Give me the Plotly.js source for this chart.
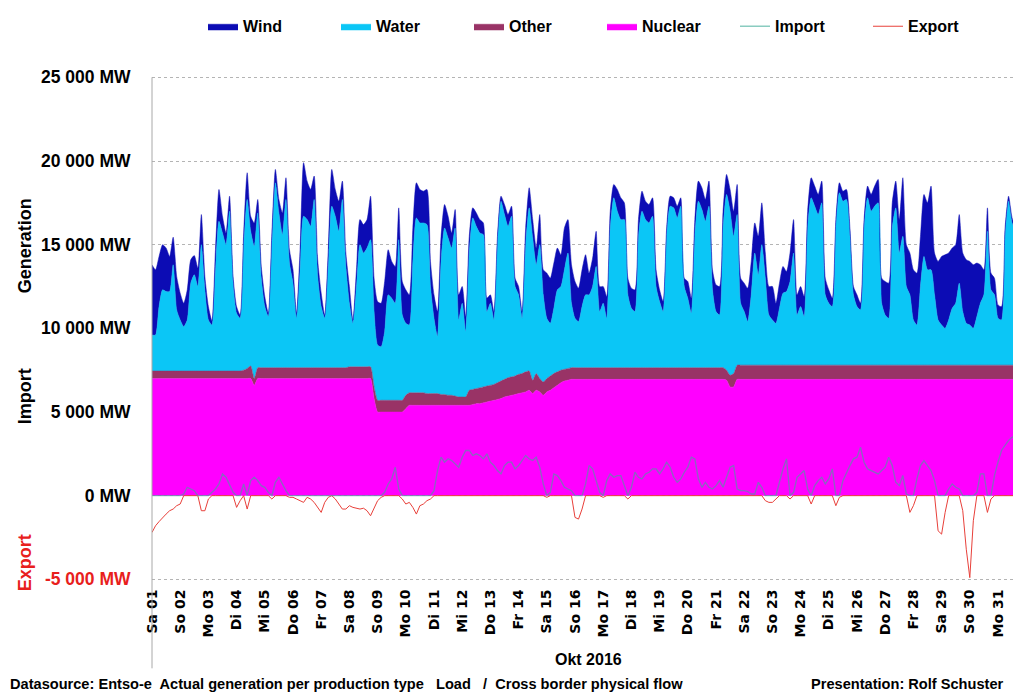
<!DOCTYPE html>
<html>
<head>
<meta charset="utf-8">
<script src="https://cdn.plot.ly/plotly-3.0.1.min.js"></script>
<style>
html,body{margin:0;padding:0;background:#fff;}
#chart{width:1013px;height:694px;}
</style>
</head>
<body>
<div id="chart"></div>
<script>
// ---- Data (MW), sampled every 3 hours, October 2016 ----
const hoursOfDay = [0,3,6,9,12,15,18,21];
const dayLabels = ["Sa 01","So 02","Mo 03","Di 04","Mi 05","Do 06","Fr 07","Sa 08","So 09","Mo 10",
  "Di 11","Mi 12","Do 13","Fr 14","Sa 15","So 16","Mo 17","Di 18","Mi 19","Do 20",
  "Fr 21","Sa 22","So 23","Mo 24","Di 25","Mi 26","Do 27","Fr 28","Sa 29","So 30","Mo 31"];

const nuclearMW = [
 7000,7000,7000,7000,7000,7000,7000,7000,
 7000,7000,7000,7000,7000,7000,7000,7000,
 7000,7000,7000,7000,7000,7000,7000,7000,
 7000,7000,7000,7000,7000,6600,7000,7000,
 7000,7000,7000,7000,7000,7000,7000,7000,
 7000,7000,7000,7000,7000,7000,7000,7000,
 7000,7000,7000,7000,7000,7000,7000,7000,
 7000,7000,7000,7000,7000,7000,7000,5800,
 5000,5000,5000,5000,5000,5000,5000,5000,
 5200,5400,5400,5400,5400,5400,5400,5400,
 5400,5400,5400,5400,5400,5400,5400,5400,
 5400,5400,5400,5450,5500,5500,5550,5600,
 5650,5700,5750,5800,5900,5950,6000,6050,
 6100,6150,6200,6300,6100,6300,6200,6000,
 6200,6300,6450,6600,6750,6850,6900,6950,
 6950,6950,6950,6950,6950,6950,6950,6950,
 6950,6950,6950,6950,6950,6950,6950,6950,
 6950,6950,6950,6950,6950,6950,6950,6950,
 6950,6950,6950,6950,6950,6950,6950,6950,
 6950,6950,6950,6950,6950,6950,6950,6950,
 6950,6950,6950,6900,6500,6500,6950,6950,
 6950,6950,6950,6950,6950,6950,6950,6950,
 6950,6950,6950,6950,6950,6950,6950,6950,
 6950,6950,6950,6950,6950,6950,6950,6950,
 6950,6950,6950,6950,6950,6950,6950,6950,
 6950,6950,6950,6950,6950,6950,6950,6950,
 6950,6950,6950,6950,6950,6950,6950,6950,
 6950,6950,6950,6950,6950,6950,6950,6950,
 6950,6950,6950,6950,6950,6950,6950,6950,
 6950,6950,6950,6950,6950,6950,6950,6950,
 6950,6950,6950,6950,6950,6950];

const otherMW = [
 450,450,450,450,450,450,450,450,
 450,450,450,450,450,450,450,450,
 450,450,450,450,450,450,450,450,
 450,450,500,600,750,400,650,650,
 650,650,650,650,650,650,650,650,
 650,650,650,650,650,650,650,650,
 650,650,650,650,650,650,650,650,
 700,700,700,700,700,700,700,700,
 700,700,700,700,700,700,700,700,
 800,750,750,750,750,750,700,700,
 700,700,650,650,600,600,550,500,
 500,500,900,900,900,950,950,950,
 950,950,1000,1050,1050,1100,1100,1100,
 1150,1150,1200,1150,800,1000,800,800,
 800,850,850,800,750,700,700,700,
 700,700,700,700,700,700,700,700,
 700,700,700,700,700,700,700,700,
 700,700,700,700,700,700,700,700,
 700,700,700,700,700,700,700,700,
 700,700,700,700,700,700,700,700,
 700,700,700,600,700,800,850,850,
 850,850,850,850,850,850,850,850,
 850,850,850,850,850,850,850,850,
 850,850,850,850,850,850,850,850,
 850,850,850,850,850,850,850,850,
 850,850,850,850,850,850,850,850,
 850,850,850,850,850,850,850,850,
 850,850,850,850,850,850,850,850,
 850,850,850,850,850,850,850,850,
 850,850,850,850,850,850,850,850,
 850,850,850,850,850,850];

const waterMW = [
 2150,2150,3850,4850,4750,4750,6350,3650,
 3050,2650,3050,5250,5750,5050,7550,4850,
 3050,2750,6050,8950,8250,7550,9550,5250,
 3450,3150,7400,10100,8050,7900,9250,5350,
 3650,3050,7250,11050,9250,7950,10050,6250,
 5050,2950,5850,9050,8850,8450,10050,5450,
 3650,2950,6050,9650,9050,8150,10050,6050,
 3800,2600,4800,7300,6800,7100,7600,4500,
 3300,3200,4100,6300,6100,5800,9600,5100,
 4300,4050,7850,10450,10150,10150,10100,6400,
 4500,3400,7950,9950,9400,8800,10050,4600,
 5600,3900,8200,10250,9700,9250,9100,4450,
 4900,3850,8250,10750,9850,9050,9600,5350,
 4750,3300,7600,9750,8500,6500,8000,5200,
 3600,3150,3900,4900,5000,5950,6900,3850,
 2950,2750,3650,4350,4350,4850,6050,3350,
 3850,2950,8350,10150,9350,8850,8850,4350,
 3550,3350,7850,9350,8850,8650,9050,4850,
 3950,3350,7850,9650,9550,8950,9650,4850,
 4150,3250,7850,9950,9450,8750,9650,4650,
 3350,3150,8350,10500,9800,8200,9000,3700,
 3200,2600,4200,6700,5400,7200,5200,3000,
 2700,2500,3400,4300,4400,5000,6700,3000,
 3500,2900,8200,10000,9500,9000,9700,4200,
 3700,3500,8200,10300,9800,9900,7700,4200,
 3500,3300,8200,10000,9200,9500,9700,3700,
 3000,2800,8200,9400,6700,7700,4700,4200,
 2700,2400,4700,6500,5700,5700,4200,2700,
 2400,2200,2700,3400,3700,4900,3200,2500,
 2400,2200,2900,3700,4200,8000,4500,4200,
 2800,2700,7700,9800,8500,8000];

const windMW = [
 4200,3900,3000,2700,2600,2100,1650,2000,
 1600,1400,1800,1400,1150,1100,1800,800,
 800,250,1200,1900,1000,700,900,400,
 400,200,800,1600,900,1400,800,700,
 600,200,800,800,800,1300,1300,800,
 800,300,1200,3200,2300,2200,1400,1000,
 800,200,1000,2200,1600,1800,1100,800,
 1000,200,1000,1500,1700,1700,2600,2000,
 2600,2600,3000,2700,2200,2200,1900,2000,
 2000,1800,2000,2100,2000,1900,2100,1500,
 1400,1500,1500,1400,1300,900,1100,1500,
 1000,900,1000,600,800,800,700,800,
 500,500,500,300,600,700,600,500,
 500,400,1000,1200,1100,1000,1800,1500,
 2700,2700,2700,2500,1900,2500,2000,2300,
 2200,2000,2200,2400,1300,1700,2100,1500,
 1000,1300,1000,800,1300,1300,1000,1000,
 1200,1300,1000,1200,1100,1100,1100,1000,
 700,600,500,600,600,700,500,500,
 1000,900,1000,1200,1300,1300,1500,1200,
 1600,1700,1000,1200,1300,1500,1800,1500,
 1700,2000,2000,1800,2300,2500,1500,1700,
 2000,1200,1500,1600,1200,1700,2000,1200,
 1200,1200,1000,1200,1200,1200,1300,1000,
 800,500,500,600,600,600,500,500,
 700,400,500,700,1000,1200,1400,1500,
 2000,2100,1500,1600,2000,3500,2500,2500,
 3000,3100,3000,3700,4000,5000,2500,3500,
 4100,4400,4000,3600,3500,4100,3500,3800,
 3800,3800,3200,2300,1500,1400,1000,1000,
 800,800,500,300,300,200];

const importMW = [
 0,0,0,0,0,0,0,0,
 0,100,500,400,300,0,0,0,
 0,200,400,700,1300,1100,600,200,
 0,0,700,0,900,1100,900,600,
 500,200,0,800,1100,700,300,0,
 0,0,0,0,0,0,0,0,
 0,0,0,0,0,0,0,0,
 0,0,0,0,0,0,0,0,
 0,0,200,700,1000,1700,400,0,
 0,0,0,0,0,0,0,0,
 300,1500,2300,2000,2200,2100,1900,1700,
 2300,2700,2700,2400,2500,2400,2200,2500,
 2000,1800,1500,1300,1800,2000,2000,1600,
 1800,2100,2400,2200,2100,2300,1700,700,
 0,200,1300,1200,900,500,400,300,
 0,0,0,700,1800,1600,900,200,
 0,900,1300,1100,1200,1200,600,0,
 500,1400,1100,1000,1300,1400,1600,1600,
 1300,1600,2000,1700,1100,800,1000,1400,
 1700,2300,2200,1000,500,800,500,400,
 600,900,500,1100,1700,1800,400,300,
 300,250,100,100,800,500,0,0,
 0,0,800,1600,2200,0,200,1100,
 1300,1500,400,0,600,900,1100,700,
 1000,1600,0,0,900,1400,1800,2200,
 2300,2900,2000,1600,1500,1400,1300,1500,
 1700,2300,1800,800,600,1200,100,0,
 0,1000,1800,2100,1800,1500,900,0,
 0,0,400,700,500,400,0,0,
 0,0,200,1300,1300,0,0,1200,
 2000,2700,3000,3300,3500,3500];

const exportMW = [
 -2200,-1800,-1550,-1300,-1100,-900,-800,-600,
 -500,0,0,0,0,0,-900,-900,
 -200,0,0,0,0,0,0,0,
 -700,-300,0,-800,0,0,0,0,
 0,0,-200,0,0,0,0,-100,
 -100,-200,-300,-400,-100,-200,-400,-700,
 -1000,-400,-100,0,-200,-500,-800,-800,
 -600,-700,-750,-800,-750,-900,-1200,-700,
 -300,-100,0,0,0,0,0,-200,
 -500,-400,-700,-1100,-600,-500,-300,-200,
 0,0,0,0,0,0,0,0,
 0,0,0,0,0,0,0,0,
 0,0,0,0,0,0,0,0,
 0,0,0,0,0,0,0,0,
 -100,0,0,0,0,0,0,0,
 -1300,-1400,-800,0,0,0,0,0,
 -100,0,0,0,0,0,0,-200,
 0,0,0,0,0,0,0,0,
 0,0,0,0,0,0,0,0,
 0,0,0,0,0,0,0,0,
 0,0,0,0,0,0,0,0,
 0,0,0,0,0,0,-300,-400,
 -400,-200,0,0,0,-200,0,0,
 0,0,0,-500,0,0,0,0,
 0,0,-600,-100,0,0,0,0,
 0,0,0,0,0,0,0,0,
 0,0,0,0,0,0,0,-1000,
 -600,0,0,0,0,0,0,-2100,
 -2300,-1000,0,0,0,0,-900,-3200,
 -4900,-1500,0,0,0,-1000,-200,0,
 0,0,0,0,0,0];

const yTickVals = [-5000,0,5000,10000,15000,20000,25000];
const yTickText = ['<span style="color:#e8201c">-5 000 MW</span>','0 MW','5 000 MW','10 000 MW','15 000 MW','20 000 MW','25 000 MW'];

// time axis in days since 1 Oct 00:00
const xTime = nuclearMW.map((_, i) => Math.floor(i / hoursOfDay.length) + hoursOfDay[i % hoursOfDay.length] / 24);
const dayTicks = dayLabels.map((_, i) => i);

// plot geometry: 25 000 MW at y=77 px, -5 000 MW at y=579 px
const W = 1013, H = 694, L = 152, R = 0;
const yMin = -5100, yMax = 25200;
const k = (579 - 77) / 30000;
const T = 77 - (yMax - 25000) * k;
const B = H - (579 + (-5000 - yMin) * k);
const pw = W - L - R, ph = H - T - B;
const px = v => (v - L) / pw;
const py = v => (H - B - v) / ph;

const SANS = 'Liberation Sans, Arial, sans-serif';

function area(name, y, color, rank) {
  return {type:'scatter', mode:'lines', name:name, x:xTime, y:y, stackgroup:'gen',
    line:{color:color, width:0.5, shape:'spline', smoothing:0.6},
    fillcolor:color, legendrank:rank, hoverinfo:'skip'};
}

const traces = [
  area('Nuclear', nuclearMW, '#ff00ff', 4),
  area('Other', otherMW, '#993366', 3),
  area('Water', waterMW, '#0bc6f6', 2),
  area('Wind', windMW, '#0c0cb4', 1),
  {type:'scatter', mode:'lines', name:'Export', x:xTime, y:exportMW,
   line:{color:'#e8403a', width:1}, legendrank:6, hoverinfo:'skip'},
  {type:'scatter', mode:'lines', name:'Import', x:xTime, y:importMW,
   line:{color:'rgba(60,170,150,0.6)', width:1.3}, legendrank:5, hoverinfo:'skip'}
];

const layout = {
  width:W, height:H,
  margin:{l:L, r:R, t:T, b:B, pad:0},
  paper_bgcolor:'#ffffff', plot_bgcolor:'#ffffff',
  showlegend:true,
  legend:{orientation:'h', x:px(203), xanchor:'left', y:py(26), yanchor:'middle',
    entrywidth:88, entrywidthmode:'pixels', traceorder:'normal',
    font:{family:SANS, size:16, weight:'bold', color:'#000'}, itemclick:false},
  xaxis:{range:[0, (W - L) / 28.2], tickmode:'array', tickvals:dayTicks, ticktext:dayLabels,
    tickangle:-90, tickfont:{family:'DejaVu Sans, sans-serif', size:14, weight:'bold', color:'#000'},
    ticks:'outside', ticklen:2, tickcolor:'rgba(0,0,0,0)',
    showgrid:false, zeroline:false, showline:false, fixedrange:true},
  yaxis:{range:[yMin, yMax], tickmode:'array', tickvals:yTickVals, ticktext:yTickText,
    tickfont:{family:SANS, size:17.5, weight:'bold', color:'#000'},
    ticks:'outside', ticklen:17, tickcolor:'rgba(0,0,0,0)',
    showgrid:true, gridcolor:'#b4b4b4', griddash:'3px,3px', gridwidth:1,
    zeroline:false, showline:false, fixedrange:true},
  shapes:[
    {type:'line', xref:'paper', yref:'paper', x0:0, x1:0, y0:py(668), y1:py(77),
     line:{color:'#a8a8a8', width:1}}
  ],
  annotations:[
    {text:'Generation', xref:'paper', yref:'paper', x:px(25), xanchor:'center', y:py(245), yanchor:'middle',
     showarrow:false, textangle:-90, font:{family:SANS, size:18, weight:'bold', color:'#000'}},
    {text:'Import', xref:'paper', yref:'paper', x:px(25), xanchor:'center', y:py(396), yanchor:'middle',
     showarrow:false, textangle:-90, font:{family:SANS, size:18, weight:'bold', color:'#000'}},
    {text:'Export', xref:'paper', yref:'paper', x:px(25), xanchor:'center', y:py(562), yanchor:'middle',
     showarrow:false, textangle:-90, font:{family:SANS, size:18, weight:'bold', color:'#e8201c'}},
    {text:'Okt 2016', xref:'paper', yref:'paper', x:px(588), xanchor:'center', y:py(659), yanchor:'middle',
     showarrow:false, font:{family:SANS, size:16, weight:'bold', color:'#000'}},
    {text:'Datasource: Entso-e  Actual generation per production type   Load   /  Cross border physical flow',
     xref:'paper', yref:'paper', x:px(8), xanchor:'left', y:py(684), yanchor:'middle', showarrow:false,
     font:{family:SANS, size:14.6, weight:'bold', color:'#000'}},
    {text:'Presentation: Rolf Schuster', xref:'paper', yref:'paper', x:px(1006), xanchor:'right',
     y:py(684), yanchor:'middle', showarrow:false, font:{family:SANS, size:14.6, weight:'bold', color:'#000'}}
  ]
};

Plotly.newPlot('chart', traces, layout, {displayModeBar:false, staticPlot:true});
</script>
</body>
</html>
